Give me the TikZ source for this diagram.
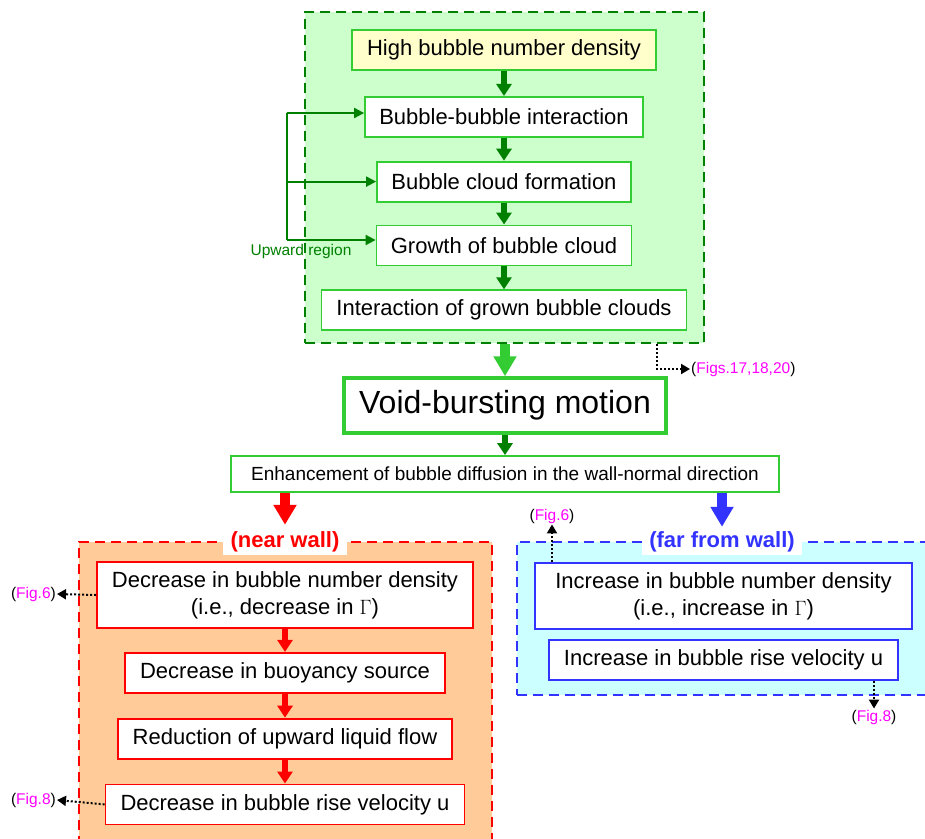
\documentclass[tikz,border=0pt]{standalone}
\usepackage{fontspec}
\setmainfont{Liberation Sans}
\usetikzlibrary{positioning, arrows.meta}
\definecolor{upgreen}{RGB}{0,128,0}
\definecolor{litgreen}{RGB}{51,204,51}
\definecolor{palegreen}{RGB}{204,255,204}
\definecolor{paleyellow}{RGB}{255,255,204}
\definecolor{peach}{RGB}{255,204,153}
\definecolor{palecyan}{RGB}{204,255,255}
\definecolor{farblue}{RGB}{51,51,255}
\definecolor{figpink}{RGB}{255,0,255}
\newcommand{\figtag}[1]{(\textcolor{figpink}{#1})}
\tikzstyle{upregion} = [rectangle, draw=upgreen, line width=2.5pt, dash pattern=on 10pt off 6pt, fill=palegreen]
\tikzstyle{nearregion} = [rectangle, draw=red, line width=2.5pt, dash pattern=on 10pt off 6pt, fill=peach]
\tikzstyle{farregion} = [rectangle, draw=farblue, line width=2.5pt, dash pattern=on 10pt off 6pt, fill=palecyan]
\tikzstyle{zonelabel} = [rectangle, fill=white, inner sep=1pt, minimum height=26pt, font=\fontsize{22}{26}\selectfont\bfseries]
\tikzstyle{upbox} = [rectangle, minimum height=40pt, inner sep=4pt, align=center, draw=litgreen, line width=1.8pt, fill=white, font=\fontsize{22}{27}\selectfont]
\tikzstyle{nearbox} = [upbox, draw=red]
\tikzstyle{farbox} = [upbox, draw=farblue]
\tikzstyle{voidbox} = [upbox, line width=3.5pt, minimum height=55pt, font=\fontsize{32}{38}\selectfont]
\tikzstyle{figlabel} = [inner sep=1pt, font=\fontsize{15.5}{18}\selectfont]
\tikzstyle{arrow} = [upgreen, line width=6pt, -{Triangle[length=12pt, width=15pt]}]
\tikzstyle{fatarrow} = [line width=9.5pt, -{Triangle[length=20pt, width=22pt]}]
\tikzstyle{fanarrow} = [upgreen, line width=2pt, -{Triangle[length=10pt, width=10pt]}]
\tikzstyle{refarrow} = [black, line width=2pt, dash pattern=on 2pt off 2pt, -{Triangle[length=9pt, width=10pt]}]

\begin{document}
\begin{tikzpicture}[x=1pt, y=-1pt]
	\clip (0,0) rectangle (925,838);
	\node (upzone) [upregion, minimum width=399pt, minimum height=331pt] at (504.5,177.5) {};
	\node (nearzone) [nearregion, minimum width=413pt, minimum height=320pt] at (285.5,702) {};
	\node (farzone) [farregion, minimum width=418pt, minimum height=153pt] at (726,618.5) {};
	\node (nearlbl) [zonelabel, text=red, minimum width=124pt] at (285,542) {(near wall)};
	\node (farlbl) [zonelabel, text=farblue, minimum width=160pt] at (722,542) {(far from wall)};
	\node (high) [upbox, fill=paleyellow, minimum width=304pt] at (504,50) {High bubble number density};
	\node (bbi) [upbox, minimum width=278pt, below=25pt of high] {Bubble-bubble interaction};
	\node (bcf) [upbox, minimum width=254pt, below=23pt of bbi] {Bubble cloud formation};
	\node (gbc) [upbox, minimum width=255pt, below=22pt of bcf] {Growth of bubble cloud};
	\node (igc) [upbox, minimum width=365pt, below=23pt of gbc] {Interaction of grown bubble clouds};
	\node (upward) [figlabel, text=upgreen] at (301,251) {Upward region};
	\node (void) [voidbox, minimum width=322pt] at (505,405.5) {Void-bursting motion};
	\node (enh) [upbox, minimum width=548pt, minimum height=36pt, font=\fontsize{19}{23}\selectfont] at (505,474) {Enhancement of bubble diffusion in the wall-normal direction};
	\node (dnd) [nearbox, minimum width=376pt, minimum height=66pt] at (285,595) {Decrease in bubble number density\\(i.e., decrease in $\Gamma$)};
	\node (dbs) [nearbox, minimum width=320pt, below=23pt of dnd] {Decrease in buoyancy source};
	\node (ruf) [nearbox, minimum width=334pt, below=24pt of dbs] {Reduction of upward liquid flow};
	\node (drv) [nearbox, minimum width=359pt, below=24pt of ruf] {Decrease in bubble rise velocity u};
	\node (ind) [farbox, minimum width=377pt, minimum height=66pt] at (723.5,596) {Increase in bubble number density\\(i.e., increase in $\Gamma$)};
	\node (irv) [farbox, minimum width=349pt, below=9pt of ind] {Increase in bubble rise velocity u};
	\node (figs) [figlabel, anchor=west] at (690,369) {\figtag{Figs.17,18,20}};
	\node (fig6l) [figlabel, anchor=east] at (57,594) {\figtag{Fig.6}};
	\node (fig8l) [figlabel, anchor=east] at (57,800) {\figtag{Fig.8}};
	\node (fig6r) [figlabel] at (552,516) {\figtag{Fig.6}};
	\node (fig8r) [figlabel] at (874,717) {\figtag{Fig.8}};
	\coordinate (fantop) at (287,113);
	\coordinate (fanbot) at (287,240);
	\coordinate (figsfoot) at (657,344);
	\draw [arrow] (high) -- (bbi);
	\draw [arrow] (bbi) -- (bcf);
	\draw [arrow] (bcf) -- (gbc);
	\draw [arrow] (gbc) -- (igc);
	\draw [upgreen, line width=2pt] (fantop) -- (fanbot);
	\draw [fanarrow] (fantop) -- (bbi.west |- fantop);
	\draw [fanarrow] (fanbot |- bcf.west) -- (bcf.west);
	\draw [fanarrow] (fanbot) -- (gbc.west |- fanbot);
	\draw [fatarrow, litgreen] (upzone.south -| void) -- (void.north);
	\draw [refarrow] (figsfoot) |- (figs.west);
	\draw [arrow] (void) -- (enh);
	\draw [fatarrow, red] (enh.south -| nearlbl) -- ([yshift=4pt]nearlbl.north);
	\draw [fatarrow, farblue] (enh.south -| farlbl) -- ([yshift=2pt]farlbl.north);
	\draw [arrow, red] (dnd) -- (dbs);
	\draw [arrow, red] (dbs) -- (ruf);
	\draw [arrow, red] (ruf) -- (drv);
	\draw [refarrow] (dnd.west) -- (fig6l.east);
	\draw [refarrow] (drv.west) -- (fig8l.east);
	\draw [refarrow] (ind.north -| fig6r) -- (fig6r.south);
	\draw [refarrow] (irv.south -| fig8r) -- (fig8r.north);
\end{tikzpicture}
\end{document}
